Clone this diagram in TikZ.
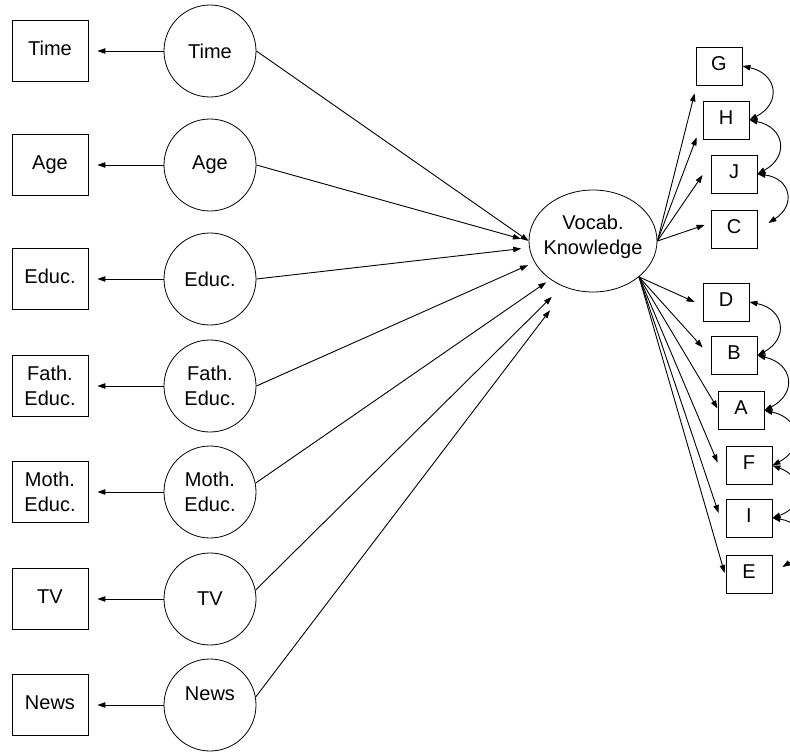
\documentclass[tikz,border=0pt]{standalone}
\usepackage{fontspec}
\setmainfont{Liberation Sans}
\usetikzlibrary{arrows.meta,shapes.geometric}
\begin{document}
\begin{tikzpicture}[x=1pt,y=1pt,
  every node/.style={font=\fontsize{20}{25}\selectfont},
  obs/.style={draw, line width=0.8pt, minimum width=76pt, minimum height=61pt, inner sep=0pt, text height=14.5pt, text depth=6pt},
  obstwo/.style={draw, line width=0.8pt, minimum width=76pt, minimum height=61pt, inner sep=0pt, align=center},
  lat/.style={draw, circle, line width=0.8pt, minimum size=92pt, inner sep=0pt},
  ind/.style={draw, line width=0.8pt, minimum width=46pt, minimum height=38pt, inner sep=0pt, text height=14.5pt, text depth=6pt},
  arr/.style={line width=0.9pt, -{Triangle[length=8pt,width=5.5pt]}},
  cov/.style={line width=0.9pt, {Triangle[length=8pt,width=5.5pt]}-{Triangle[length=8pt,width=5.5pt]}, bend left=70, looseness=1.7},
]
\useasboundingbox (0,0) rectangle (790,-752);
\clip (0,0) rectangle (790,-752);

% observed boxes (left)
\node[obs] (bTime) at (50,-51) {Time};
\node[obs] (bAge) at (50,-165) {Age};
\node[obs] (bEduc) at (50,-279) {Educ.};
\node[obstwo] (bFath) at (50,-386) {Fath.\\Educ.};
\node[obstwo] (bMoth) at (50,-492) {Moth.\\Educ.};
\node[obs] (bTV) at (50,-599) {TV};
\node[obs] (bNews) at (50,-705) {News};

% latent circles
\node[lat] (cTime) at (210,-51) {Time};
\node[lat] (cAge) at (210,-165) {Age};
\node[lat] (cEduc) at (210,-279) {Educ.};
\node[lat, align=center] (cFath) at (210,-386) {Fath.\\Educ.};
\node[lat, align=center] (cMoth) at (210,-492) {Moth.\\Educ.};
\node[lat] (cTV) at (210,-599) {TV};
\node[lat, text height=14.5pt, text depth=24pt] (cNews) at (210,-705) {News};

% central latent
\node[draw, ellipse, line width=0.8pt, minimum width=128pt, minimum height=102pt, inner sep=0pt] (vk) at (593,-241) {};
\node[align=center] (vkt) at ([yshift=4pt]vk.center) {Vocab.\\Knowledge};

% indicator boxes (right)
\node[ind] (G) at (719,-66) {G};
\node[ind] (H) at (726,-120) {H};
\node[ind] (J) at (734,-174) {J};
\node[ind] (C) at (734,-229) {C};
\node[ind] (D) at (726,-302) {D};
\node[ind] (B) at (734,-355.5) {B};
\node[ind] (A) at (741,-410.5) {A};
\node[ind] (F) at (749,-465.5) {F};
\node[ind] (I) at (749,-518) {I};
\node[ind] (E) at (749,-574) {E};

% circle -> box
\foreach \n in {Time,Age,Educ,Fath,Moth,TV,News}{
  \draw[arr, shorten >=9pt] (c\n.west) -- (b\n.east);
}

% predictors -> vk
\draw[arr] (cTime.east) -- (vk.west);
\draw[arr, shorten >=8pt] (cAge.east) -- (vk.west);
\draw[arr, shorten >=8pt] (cEduc.east) -- (vk.186);
\draw[arr, shorten >=7pt] (cFath.east) -- (vk.200);
\draw[arr, shorten >=5pt] (cMoth.11) -- (vk.222);
\draw[arr, shorten >=15pt] (cTV.11) -- (vk.236);
\draw[arr, shorten >=28pt] (cNews.10) -- (vk.241);

% vk -> indicators
\draw[arr] (vk.east) -- ([xshift=-1pt,yshift=-8pt]G.south west);
\draw[arr] (vk.east) -- ([xshift=-6pt,yshift=2pt]H.south west);
\draw[arr] (vk.east) -- ([xshift=-8pt,yshift=-1pt]J.west);
\draw[arr] (vk.east) -- ([xshift=-6pt,yshift=4pt]C.west);
\draw[arr] (vk.-38) -- ([xshift=-8pt]D.west);
\draw[arr] (vk.-38) -- ([xshift=-8pt,yshift=8pt]B.west);
\draw[arr] (vk.-38) -- ([yshift=2pt]A.west);
\draw[arr] (vk.-38) -- ([xshift=-8pt,yshift=3pt]F.west);
\draw[arr] (vk.-38) -- ([xshift=-7pt,yshift=5pt]I.west);
\draw[arr] (vk.-38) -- ([xshift=-1pt,yshift=1pt]E.west);

% covariances
\draw[cov] (G.east) to (H.east);
\draw[cov] (H.east) to (J.east);
\draw[cov] (J.east) to ([xshift=11pt,yshift=6pt]C.east);
\draw[cov] (D.east) to (B.east);
\draw[cov] (B.east) to (A.east);
\draw[cov] (A.east) to (F.east);
\draw[cov] (F.east) to (I.east);
\draw[cov] (I.east) to ([xshift=10pt,yshift=7pt]E.east);
\end{tikzpicture}
\end{document}
